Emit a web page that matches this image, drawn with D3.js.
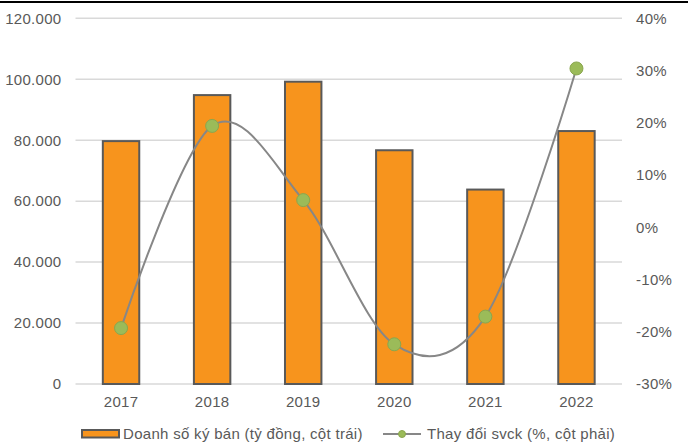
<!DOCTYPE html>
<html>
<head>
<meta charset="utf-8">
<script src="https://cdn.jsdelivr.net/npm/d3@7"></script>
<style>
  html, body { margin: 0; padding: 0; background: #ffffff; }
  svg { display: block; }
  text { font-family: "Liberation Sans", Arial, sans-serif; font-size: 15px; fill: #595959; letter-spacing: 0.3px; }
</style>
</head>
<body>
<svg id="chart" width="688" height="448"></svg>
<script>
const years = ["2017", "2018", "2019", "2020", "2021", "2022"];
const sales = [79700, 94800, 99200, 76700, 63800, 83000];
const change = [-19.3, 19.4, 5.2, -22.4, -17.1, 30.4];
const leftTicks = [0, 20000, 40000, 60000, 80000, 100000, 120000];
const rightTicks = [-30, -20, -10, 0, 10, 20, 30, 40];
const legendLabels = ["Doanh số ký bán (tỷ đồng, cột trái)", "Thay đổi svck (%, cột phải)"];

(function () {
const svg = d3.select("#chart");
const pL = 75.5, pR = 622, pT = 18.3, pB = 384;
const FONT = "'Liberation Sans', Arial, sans-serif";

// top border line
svg.append("rect").attr("x", 0).attr("y", 1).attr("width", 688).attr("height", 2).attr("fill", "#000");

const x = d3.scaleBand().domain(years).range([pL, pR]).padding(0);
const yL = d3.scaleLinear().domain([0, 120000]).range([pB, pT]);
const yR = d3.scaleLinear().domain([-30, 40]).range([pB, pT]);

const fmt = v => v === 0 ? "0" : d3.format(",")(v).replace(/,/g, ".");

// gridlines
svg.append("g").selectAll("line").data(leftTicks).join("line")
  .attr("x1", pL).attr("x2", pR)
  .attr("y1", d => yL(d)).attr("y2", d => yL(d))
  .attr("stroke", "#d9d9d9").attr("stroke-width", 1.5);

// left axis
const axL = svg.append("g").attr("transform", `translate(${pL},0)`)
  .call(d3.axisLeft(yL).tickValues(leftTicks).tickFormat(fmt).tickSize(0).tickPadding(14));
axL.select(".domain").remove();
axL.selectAll("text").attr("fill", "#595959").style("font-size", "15px").style("font-family", FONT);

// right axis
const axR = svg.append("g").attr("transform", `translate(${pR},0)`)
  .call(d3.axisRight(yR).tickValues(rightTicks).tickFormat(d => d + "%").tickSize(0).tickPadding(14));
axR.select(".domain").remove();
axR.selectAll("text").attr("fill", "#595959").style("font-size", "15px").style("font-family", FONT);

// bottom axis
const axB = svg.append("g").attr("transform", `translate(0,${pB})`)
  .call(d3.axisBottom(x).tickSize(0).tickPadding(12));
axB.select(".domain").remove();
axB.selectAll("text").attr("fill", "#595959").style("font-size", "15px").style("font-family", FONT);

// bars
const bw = x.bandwidth() * 0.4;
svg.append("g").selectAll("rect").data(years).join("rect")
  .attr("x", (d) => x(d) + x.bandwidth() / 2 - bw / 2)
  .attr("y", (d, i) => yL(sales[i]))
  .attr("width", bw)
  .attr("height", (d, i) => yL(0) - yL(sales[i]))
  .attr("fill", "#f7941d")
  .attr("stroke", "#595959").attr("stroke-width", 2);

// line
const pts = years.map((d, i) => [x(d) + x.bandwidth() / 2, yR(change[i])]);
svg.append("path").datum(pts)
  .attr("d", d3.line().curve(d3.curveCatmullRom.alpha(0)))
  .attr("fill", "none").attr("stroke", "#878787").attr("stroke-width", 2);

svg.append("g").selectAll("circle").data(pts).join("circle")
  .attr("cx", d => d[0]).attr("cy", d => d[1]).attr("r", 6.5)
  .attr("fill", "#9bbb59").attr("stroke", "#8aa64e").attr("stroke-width", 1);

// legend
const lg = svg.append("g");
lg.append("rect").attr("x", 82).attr("y", 430).attr("width", 37).attr("height", 7.5)
  .attr("fill", "#f7941d").attr("stroke", "#595959").attr("stroke-width", 2);
lg.append("text").attr("x", 123).attr("y", 439).text(legendLabels[0]);
lg.append("line").attr("x1", 383).attr("x2", 421).attr("y1", 434).attr("y2", 434)
  .attr("stroke", "#878787").attr("stroke-width", 2);
lg.append("circle").attr("cx", 402).attr("cy", 434).attr("r", 3.5)
  .attr("fill", "#9bbb59").attr("stroke", "#8aa64e").attr("stroke-width", 1);
lg.append("text").attr("x", 427).attr("y", 439).text(legendLabels[1]);
})();
</script>
</body>
</html>
